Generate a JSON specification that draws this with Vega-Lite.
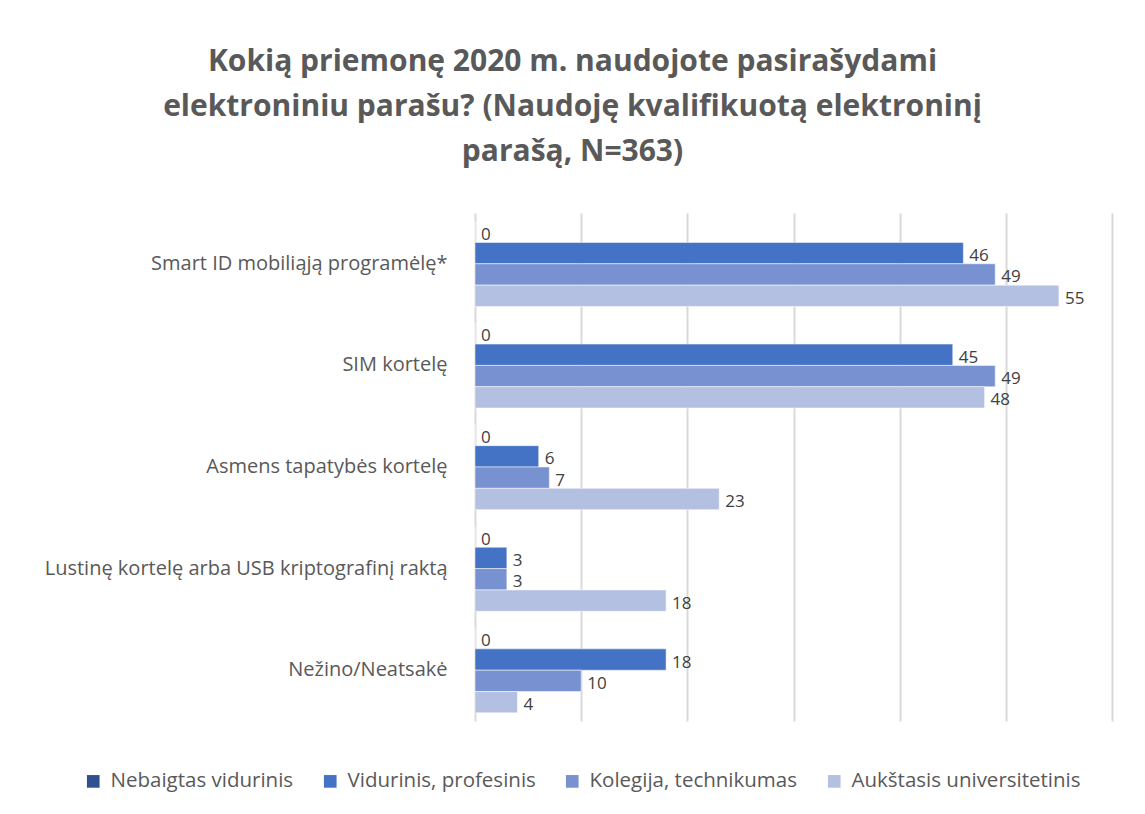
{
  "$schema": "https://vega.github.io/schema/vega-lite/v6.json",
  "width": 637,
  "height": 508,
  "autosize": "none",
  "padding": {"left": 475, "top": 213, "right": 33, "bottom": 93},
  "background": "white",
  "title": {
    "text": ["Kokią priemonę 2020 m. naudojote pasirašydami", "elektroniniu parašu? (Naudoję kvalifikuotą elektroninį", "parašą, N=363)"],
    "anchor": "middle",
    "frame": "group",
    "dx": -221,
    "offset": 46,
    "font": "Open Sans",
    "fontSize": 30,
    "fontWeight": "bold",
    "color": "#595959",
    "lineHeight": 45
  },
  "data": {
    "values": [
      {"category": "Smart ID mobiliąją programėlę*", "series": "Nebaigtas vidurinis", "value": 0},
      {"category": "Smart ID mobiliąją programėlę*", "series": "Vidurinis, profesinis", "value": 46},
      {"category": "Smart ID mobiliąją programėlę*", "series": "Kolegija, technikumas", "value": 49},
      {"category": "Smart ID mobiliąją programėlę*", "series": "Aukštasis universitetinis", "value": 55},
      {"category": "SIM kortelę", "series": "Nebaigtas vidurinis", "value": 0},
      {"category": "SIM kortelę", "series": "Vidurinis, profesinis", "value": 45},
      {"category": "SIM kortelę", "series": "Kolegija, technikumas", "value": 49},
      {"category": "SIM kortelę", "series": "Aukštasis universitetinis", "value": 48},
      {"category": "Asmens tapatybės kortelę", "series": "Nebaigtas vidurinis", "value": 0},
      {"category": "Asmens tapatybės kortelę", "series": "Vidurinis, profesinis", "value": 6},
      {"category": "Asmens tapatybės kortelę", "series": "Kolegija, technikumas", "value": 7},
      {"category": "Asmens tapatybės kortelę", "series": "Aukštasis universitetinis", "value": 23},
      {"category": "Lustinę kortelę arba USB kriptografinį raktą", "series": "Nebaigtas vidurinis", "value": 0},
      {"category": "Lustinę kortelę arba USB kriptografinį raktą", "series": "Vidurinis, profesinis", "value": 3},
      {"category": "Lustinę kortelę arba USB kriptografinį raktą", "series": "Kolegija, technikumas", "value": 3},
      {"category": "Lustinę kortelę arba USB kriptografinį raktą", "series": "Aukštasis universitetinis", "value": 18},
      {"category": "Nežino/Neatsakė", "series": "Nebaigtas vidurinis", "value": 0},
      {"category": "Nežino/Neatsakė", "series": "Vidurinis, profesinis", "value": 18},
      {"category": "Nežino/Neatsakė", "series": "Kolegija, technikumas", "value": 10},
      {"category": "Nežino/Neatsakė", "series": "Aukštasis universitetinis", "value": 4}
    ]
  },
  "encoding": {
    "y": {
      "field": "category",
      "type": "nominal",
      "sort": ["Smart ID mobiliąją programėlę*", "SIM kortelę", "Asmens tapatybės kortelę", "Lustinę kortelę arba USB kriptografinį raktą", "Nežino/Neatsakė"],
      "scale": {"paddingInner": 0.16, "paddingOuter": 0.08},
      "axis": {"title": null, "domain": false, "ticks": false, "labelPadding": 28, "labelLimit": 0, "labelFont": "Open Sans", "labelFontSize": 20, "labelColor": "#595959"}
    },
    "yOffset": {
      "field": "series",
      "type": "nominal",
      "sort": ["Nebaigtas vidurinis", "Vidurinis, profesinis", "Kolegija, technikumas", "Aukštasis universitetinis"]
    },
    "x": {
      "field": "value",
      "type": "quantitative",
      "scale": {"domain": [0, 60], "nice": false},
      "axis": {"title": null, "labels": false, "ticks": false, "domain": false, "values": [0, 10, 20, 30, 40, 50, 60], "gridColor": "#D9D9D9", "gridWidth": 2}
    }
  },
  "layer": [
    {
      "mark": {"type": "bar", "stroke": "#ffffff", "strokeWidth": 0.5},
      "encoding": {
        "color": {
          "field": "series",
          "type": "nominal",
          "sort": ["Nebaigtas vidurinis", "Vidurinis, profesinis", "Kolegija, technikumas", "Aukštasis universitetinis"],
          "scale": {"range": ["#2F528F", "#4472C4", "#7891D0", "#B4C0E2"]},
          "legend": {
            "title": null,
            "orient": "none",
            "direction": "horizontal",
            "legendX": -392,
            "legendY": 558,
            "symbolType": "square",
            "symbolSize": 160,
            "symbolStrokeWidth": 0,
            "labelFont": "Open Sans",
            "labelFontSize": 20.5,
            "labelLimit": 0,
            "labelColor": "#595959",
            "columnPadding": 26,
            "labelOffset": 7
          }
        }
      }
    },
    {
      "mark": {"type": "text", "align": "left", "dx": 6, "dy": 3, "font": "Open Sans", "fontSize": 17, "color": "#404040"},
      "encoding": {"text": {"field": "value", "type": "quantitative"}}
    }
  ],
  "config": {"view": {"stroke": null}}
}
